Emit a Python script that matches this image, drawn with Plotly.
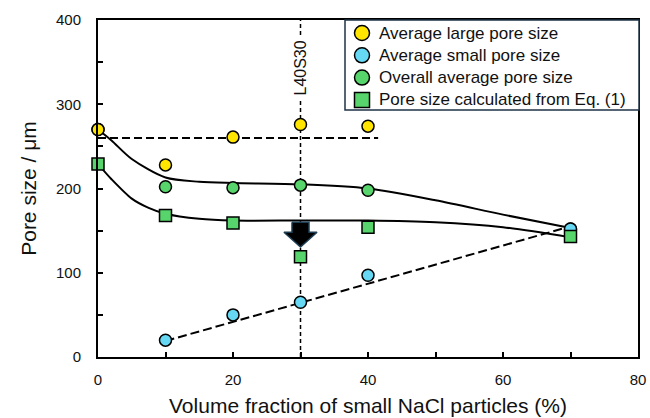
import plotly.graph_objects as go

# ---- data ----
x_large = [0, 10, 20, 30, 40]
y_large = [270, 228, 261, 276, 274]

x_small = [10, 20, 30, 40, 70]
y_small = [20, 50, 65, 97, 152]

x_overall = [0, 10, 20, 30, 40, 70]
y_overall = [270, 202, 201, 204, 198, 152]

x_eq1 = [0, 10, 20, 30, 40, 70]
y_eq1 = [229, 168, 159, 119, 154, 143]

# smooth guide curves
fit_overall_x = [0, 2, 5, 10, 15, 20, 30, 40, 50, 60, 70]
fit_overall_y = [270, 257, 235, 213, 208, 206.5, 205, 200, 186, 169, 153]
fit_eq1_x = [0, 2, 5, 7.5, 10, 15, 20, 30, 40, 50, 60, 70]
fit_eq1_y = [229, 211, 188, 177, 170, 164, 162, 162, 162, 160, 154, 142]

# dashed guide lines
hline_x = [0, 41.5]
hline_y = [260, 260]
diag_x = [10, 70]
diag_y = [19, 155]
vline_x = [30, 30]
vline_y = [0, 400]

# arrow (x centre, top, head base, tip, half widths)
arrow_x = 30
arrow_top, arrow_base, arrow_tip = 160, 148, 130.5
arrow_shaft_hw, arrow_head_hw = 1.26, 2.45

YELLOW = "#FFE500"
BLUE = "#66D8F3"
GREEN = "#57D46B"
FONT = "Arial, Liberation Sans, sans-serif"

legend_names = ["Average large pore size", "Average small pore size",
                "Overall average pore size", "Pore size calculated from Eq. (1)"]
legend_symbols = ["circle", "circle", "circle", "square"]
legend_colors = [YELLOW, BLUE, GREEN, GREEN]

W, H = 650, 418
ML, MR, MT, MB = 98, 12, 20, 61
PW, PH = W - ML - MR, H - MT - MB


def px2paper(px, py):
    return (px - ML) / PW, (H - MB - py) / PH


fig = go.Figure()

# guide lines
fig.add_trace(go.Scatter(x=vline_x, y=vline_y, mode="lines",
                         line=dict(color="black", width=1.5, dash="4px,3px"),
                         showlegend=False, hoverinfo="skip"))
fig.add_trace(go.Scatter(x=hline_x, y=hline_y, mode="lines",
                         line=dict(color="black", width=2, dash="8px,4px"),
                         showlegend=False, hoverinfo="skip", cliponaxis=False))
fig.add_trace(go.Scatter(x=diag_x, y=diag_y, mode="lines",
                         line=dict(color="black", width=2, dash="9px,4px"),
                         showlegend=False, hoverinfo="skip"))
fig.add_trace(go.Scatter(x=fit_overall_x, y=fit_overall_y, mode="lines",
                         line=dict(color="black", width=2, shape="spline", smoothing=0.8),
                         showlegend=False, hoverinfo="skip", cliponaxis=False))
fig.add_trace(go.Scatter(x=fit_eq1_x, y=fit_eq1_y, mode="lines",
                         line=dict(color="black", width=2, shape="spline", smoothing=0.8),
                         showlegend=False, hoverinfo="skip", cliponaxis=False))

# arrow polygon
ax = [arrow_x - arrow_shaft_hw, arrow_x + arrow_shaft_hw, arrow_x + arrow_shaft_hw,
      arrow_x + arrow_head_hw, arrow_x, arrow_x - arrow_head_hw,
      arrow_x - arrow_shaft_hw, arrow_x - arrow_shaft_hw]
ay = [arrow_top, arrow_top, arrow_base, arrow_base, arrow_tip, arrow_base,
      arrow_base, arrow_top]
fig.add_trace(go.Scatter(x=ax, y=ay, mode="lines", fill="toself",
                         fillcolor="black", line=dict(color="#1d3f55", width=1.5),
                         showlegend=False, hoverinfo="skip"))

mk_line = dict(color="black", width=1.5)
fig.add_trace(go.Scatter(x=x_overall, y=y_overall, mode="markers", cliponaxis=False,
                         name=legend_names[2],
                         marker=dict(symbol="circle", size=12, color=GREEN, line=mk_line),
                         showlegend=False))
fig.add_trace(go.Scatter(x=x_large, y=y_large, mode="markers", cliponaxis=False,
                         name=legend_names[0],
                         marker=dict(symbol="circle", size=12, color=YELLOW, line=mk_line),
                         showlegend=False))
fig.add_trace(go.Scatter(x=x_small, y=y_small, mode="markers", cliponaxis=False,
                         name=legend_names[1],
                         marker=dict(symbol="circle", size=12, color=BLUE, line=mk_line),
                         showlegend=False))
fig.add_trace(go.Scatter(x=x_eq1, y=y_eq1, mode="markers", cliponaxis=False,
                         name=legend_names[3],
                         marker=dict(symbol="square", size=12, color=GREEN, line=mk_line),
                         showlegend=False))

# ---- compact legend box (drawn in paper coordinates) ----
box_px = (345, 20, 639, 110)   # left, top, right, bottom in pixels
x0, y1 = px2paper(box_px[0], box_px[1])
x1, y0 = px2paper(box_px[2], box_px[3])
fig.add_shape(type="rect", xref="paper", yref="paper", x0=x0, x1=x1, y0=y0, y1=y1,
              line=dict(color="#1F3347", width=1.5), fillcolor="white", layer="above")
row0, row_step, sym_px, txt_px, r = 33, 22.3, 362, 377, 7.5
for i, (name, sym, col) in enumerate(zip(legend_names, legend_symbols, legend_colors)):
    cy = row0 + i * row_step
    sx0, sy1 = px2paper(sym_px - r, cy - r)
    sx1, sy0 = px2paper(sym_px + r, cy + r)
    fig.add_shape(type="circle" if sym == "circle" else "rect",
                  xref="paper", yref="paper", x0=sx0, x1=sx1, y0=sy0, y1=sy1,
                  line=dict(color="black", width=1.5), fillcolor=col, layer="above")
    tx, ty = px2paper(txt_px, cy)
    fig.add_annotation(xref="paper", yref="paper", x=tx, y=ty, text=name,
                       showarrow=False, xanchor="left", yanchor="middle",
                       font=dict(family=FONT, size=17, color="#111"))

fig.add_annotation(x=30, y=343, text="L40S30", textangle=-90, showarrow=False,
                   font=dict(family=FONT, size=16, color="#111"),
                   bgcolor="white", borderpad=3)

fig.update_layout(
    width=W, height=H,
    margin=dict(l=ML, r=MR, t=MT, b=MB),
    paper_bgcolor="white", plot_bgcolor="white",
    font=dict(family=FONT, color="#111"),
    showlegend=False,
    xaxis=dict(range=[0, 80], dtick=20, tick0=0, ticks="inside", ticklen=5,
               tickwidth=1.5, tickcolor="black", automargin=False,
               minor=dict(dtick=10, ticks="inside", ticklen=5, tickwidth=1.5, tickcolor="black"),
               showline=True, linecolor="black", linewidth=2, mirror=True,
               showgrid=False, zeroline=False,
               tickfont=dict(family=FONT, size=15, color="#111"),
               ticklabelstandoff=8,
               title=dict(text="Volume fraction of small NaCl particles (%)",
                          font=dict(family=FONT, size=21, color="#111"), standoff=11)),
    yaxis=dict(range=[0, 400], dtick=100, tick0=0, ticks="inside", ticklen=5,
               tickwidth=1.5, tickcolor="black", automargin=False,
               minor=dict(dtick=50, ticks="inside", ticklen=5, tickwidth=1.5, tickcolor="black"),
               showline=True, linecolor="black", linewidth=2, mirror=True,
               showgrid=False, zeroline=False,
               tickfont=dict(family=FONT, size=15, color="#111"),
               ticklabelstandoff=12,
               title=dict(text="Pore size / μm",
                          font=dict(family=FONT, size=21, color="#111"), standoff=14)),
)

fig.write_html("out.html")
